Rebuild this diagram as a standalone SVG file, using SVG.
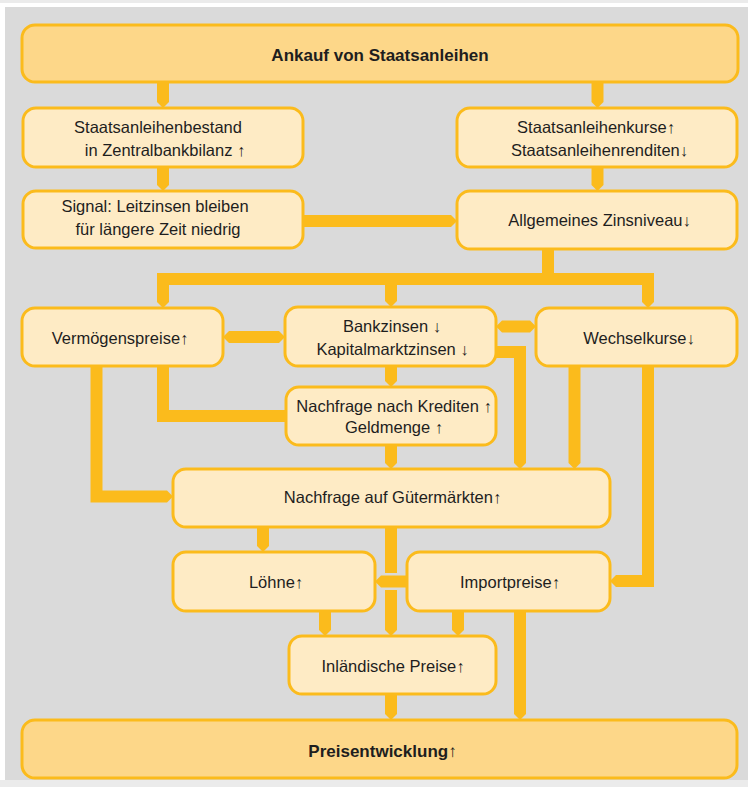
<svg xmlns="http://www.w3.org/2000/svg" width="748" height="787" viewBox="0 0 748 787">
<style>
.box{fill:#feebc5;stroke:#fbbb1c;stroke-width:3}
.dark{fill:#fdd789;stroke:#fbbb1c;stroke-width:3}
.con{fill:#fbbb1c;stroke:none}
text{font-family:"Liberation Sans",Arial,sans-serif;font-size:16.5px;fill:#1e1e1e;text-anchor:middle}
.b{font-weight:bold;font-size:17px}
.a{font-weight:bold;fill:#1e1e1e}
</style>
<rect x="0" y="0" width="748" height="787" fill="#ffffff"/>
<rect x="0" y="0" width="748" height="3" fill="#ebebeb"/>
<rect x="5" y="7" width="743" height="773" fill="#dadada"/>
<rect x="0" y="780" width="748" height="7" fill="#ebebeb"/>

<g id="connectors">
  <polygon class="con" points="157,82 169,82 169,102 163,108 157,102"/>
  <polygon class="con" points="591.5,82 603.5,82 603.5,102 597.5,108 591.5,102"/>
  <polygon class="con" points="157,167 169,167 169,185 163,191 157,185"/>
  <polygon class="con" points="591.5,167 603.5,167 603.5,185 597.5,191 591.5,185"/>
  <polygon class="con" points="303,215 451,215 457,221 451,227 303,227"/>
  <rect class="con" x="542" y="249" width="12" height="30"/>
  <rect class="con" x="157" y="273" width="497" height="12"/>
  <polygon class="con" points="157,280 169,280 169,302 163,308 157,302"/>
  <polygon class="con" points="385,280 397,280 397,301 391,307 385,301"/>
  <polygon class="con" points="642,280 654,280 654,302 648,308 642,302"/>
  <polygon class="con" points="223,337 229,331 279,331 285,337 279,343 229,343"/>
  <polygon class="con" points="496,326.5 502,320.5 530,320.5 536,326.5 530,332.5 502,332.5"/>
  <polygon class="con" points="385,366 397,366 397,381 391,387 385,381"/>
  <polygon class="con" points="496,346 526,346 526,463 520,469 514,463 514,358 496,358"/>
  <polygon class="con" points="568.5,366 580.5,366 580.5,463 574.5,469 568.5,463"/>
  <polygon class="con" points="642,366 654,366 654,587 616,587 610,581 616,575 642,575"/>
  <polygon class="con" points="157,366 169,366 169,410 286,410 286,422 157,422"/>
  <polygon class="con" points="90.5,366 102.5,366 102.5,490.5 167,490.5 173,496.5 167,502.5 90.5,502.5"/>
  <polygon class="con" points="385,445 397,445 397,463 391,469 385,463"/>
  <polygon class="con" points="257,527 269,527 269,546 263,552 257,546"/>
  <rect class="con" x="385" y="527" width="12" height="46"/>
  <polygon class="con" points="385,590 397,590 397,630 391,636 385,630"/>
  <polygon class="con" points="407,575.5 381,575.5 375,581.5 381,587.5 407,587.5"/>
  <polygon class="con" points="319,611 331,611 331,630 325,636 319,630"/>
  <polygon class="con" points="452,611 464,611 464,630 458,636 452,630"/>
  <polygon class="con" points="514,611 526,611 526,714 520,720 514,714"/>
  <polygon class="con" points="385,694 397,694 397,714 391,720 385,714"/>
</g>

<g id="n-ankauf"><rect class="dark" x="22" y="25" width="716" height="57" rx="13"/><text class="b" x="380" y="61">Ankauf von Staatsanleihen</text></g>
<g id="n-bestand"><rect class="box" x="23" y="108" width="280" height="59" rx="13"/><text x="158" y="133">Staatsanleihenbestand</text><text x="165" y="156">in Zentralbankbilanz <tspan class="a">↑</tspan></text></g>
<g id="n-kurse"><rect class="box" x="457" y="108" width="280" height="59" rx="13"/><text x="596" y="133">Staatsanleihenkurse<tspan class="a">↑</tspan></text><text x="599.5" y="156">Staatsanleihenrenditen<tspan class="a">↓</tspan></text></g>
<g id="n-signal"><rect class="box" x="23" y="191" width="280" height="57" rx="13"/><text x="155" y="212">Signal: Leitzinsen bleiben</text><text x="158" y="235">für längere Zeit niedrig</text></g>
<g id="n-zinsniveau"><rect class="box" x="457" y="191" width="280" height="58" rx="13"/><text x="599.5" y="226">Allgemeines Zinsniveau<tspan class="a">↓</tspan></text></g>
<g id="n-vermoegen"><rect class="box" x="22" y="308" width="201" height="58" rx="13"/><text x="120" y="343.5">Vermögenspreise<tspan class="a">↑</tspan></text></g>
<g id="n-bankzinsen"><rect class="box" x="285" y="307" width="211" height="59" rx="13"/><text x="392" y="332">Bankzinsen <tspan class="a">↓</tspan></text><text x="392.5" y="354.5">Kapitalmarktzinsen <tspan class="a">↓</tspan></text></g>
<g id="n-wechsel"><rect class="box" x="536" y="308" width="201" height="58" rx="13"/><text x="639" y="343.5">Wechselkurse<tspan class="a">↓</tspan></text></g>
<g id="n-kredite"><rect class="box" x="286" y="387" width="210" height="58" rx="13"/><text x="394" y="411.5">Nachfrage nach Krediten <tspan class="a">↑</tspan></text><text x="394" y="433">Geldmenge <tspan class="a">↑</tspan></text></g>
<g id="n-gueter"><rect class="box" x="173" y="469" width="437" height="58" rx="13"/><text x="392.5" y="502.5">Nachfrage auf Gütermärkten<tspan class="a">↑</tspan></text></g>
<g id="n-loehne"><rect class="box" x="173" y="552" width="202" height="59" rx="13"/><text x="276" y="588">Löhne<tspan class="a">↑</tspan></text></g>
<g id="n-import"><rect class="box" x="407" y="552" width="203" height="59" rx="13"/><text x="510" y="588">Importpreise<tspan class="a">↑</tspan></text></g>
<g id="n-inland"><rect class="box" x="289" y="636" width="207" height="58" rx="13"/><text x="393" y="672">Inländische Preise<tspan class="a">↑</tspan></text></g>
<g id="n-preis"><rect class="dark" x="22" y="720" width="715" height="58" rx="13"/><text class="b" x="382.5" y="756.5">Preisentwicklung<tspan class="a">↑</tspan></text></g>
</svg>
